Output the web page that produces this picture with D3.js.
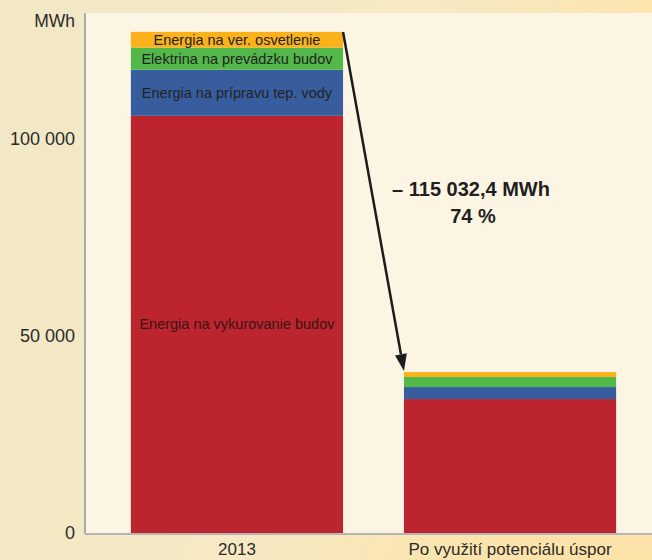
<!DOCTYPE html>
<html>
<head>
<meta charset="utf-8">
<script src="https://cdn.jsdelivr.net/npm/d3@7"></script>
<style>
  html, body { margin: 0; padding: 0; background: #f4e9c6; }
  svg { display: block; font-family: "Liberation Sans", Arial, sans-serif; }
</style>
</head>
<body>
<div id="chart"></div>
<script>

// data
var categories = ["2013", "Po využití potenciálu úspor"];
var series = [
    "Energia na vykurovanie budov",
    "Energia na prípravu tep. vody",
    "Elektrina na prevádzku budov",
    "Energia na ver. osvetlenie"
];
var heating   = [105900, 34000];
var hotWater  = [11700, 3050];
var buildings = [5600, 2550];
var lighting  = [4000, 1250];
var colors = ["#bc252e", "#375d9e", "#53b84a", "#fbb21a"];
var yTicks = [0, 50000, 100000];
var yUnit = "MWh";
var savingLabel = "– 115 032,4 MWh";
var savingPct = "74 %";

var full_width = 652,
    full_height = 560,
    margin = {top: 13, right: -10, bottom: 27, left: 85},
    width = full_width - margin.left - margin.right,
    height = full_height - margin.top - margin.bottom;

var rows = categories.map(function (c, i) {
    return {
        cat: c,
        "Energia na vykurovanie budov": heating[i],
        "Energia na prípravu tep. vody": hotWater[i],
        "Elektrina na prevádzku budov": buildings[i],
        "Energia na ver. osvetlenie": lighting[i]
    };
});

var stacked = d3.stack().keys(series)(rows);

var x = d3.scaleBand()
    .domain(categories)
    .range([margin.left, margin.left + width])
    .paddingInner(0.223)
    .paddingOuter(0.168);

var y = d3.scaleLinear()
    .domain([0, 132000])
    .range([margin.top + height, margin.top]);

var svg = d3.select("#chart").append("svg")
    .attr("width", full_width)
    .attr("height", full_height);

// background gradient
var defs = svg.append("defs");
var bg = defs.append("linearGradient")
    .attr("id", "bg")
    .attr("x1", "0").attr("y1", "0")
    .attr("x2", "1").attr("y2", "0.3");
bg.append("stop").attr("offset", "0%").attr("stop-color", "#f2e8c6");
bg.append("stop").attr("offset", "60%").attr("stop-color", "#f6e9c4");
bg.append("stop").attr("offset", "100%").attr("stop-color", "#fde3a9");

svg.append("rect")
    .attr("width", full_width)
    .attr("height", full_height)
    .attr("fill", "url(#bg)");

// plot area
svg.append("rect")
    .attr("x", margin.left)
    .attr("y", margin.top)
    .attr("width", width)
    .attr("height", height + 1)
    .attr("fill", "#fdf5e4");

// bars
svg.append("g")
    .selectAll("g")
    .data(stacked)
    .enter().append("g")
    .attr("fill", function (d, i) { return colors[i]; })
    .selectAll("rect")
    .data(function (d) { return d; })
    .enter().append("rect")
    .attr("x", function (d) { return x(d.data.cat); })
    .attr("y", function (d) { return y(d[1]); })
    .attr("width", x.bandwidth())
    .attr("height", function (d) { return y(d[0]) - y(d[1]); });

// segment labels, only on the first bar
svg.append("g")
    .selectAll("text")
    .data(stacked)
    .enter().append("text")
    .attr("x", x(categories[0]) + x.bandwidth() / 2)
    .attr("y", function (d) { return (y(d[0][0]) + y(d[0][1])) / 2; })
    .attr("dy", "0.35em")
    .attr("text-anchor", "middle")
    .attr("font-size", "14.5px")
    .attr("fill", function (d, i) { return i === 0 ? "#3a1416" : "#222"; })
    .text(function (d) { return d.key; });

// axes lines
svg.append("line")
    .attr("x1", margin.left).attr("x2", margin.left)
    .attr("y1", margin.top).attr("y2", margin.top + height + 1)
    .attr("stroke", "#aaa")
    .attr("stroke-width", 2);
svg.append("line")
    .attr("x1", margin.left).attr("x2", full_width)
    .attr("y1", margin.top + height + 1).attr("y2", margin.top + height + 1)
    .attr("stroke", "#b5b5b5")
    .attr("stroke-width", 2);

// y tick labels
var fmt = function (v) { return d3.format(",")(v).replace(/,/g, " "); };
svg.append("g")
    .selectAll("text")
    .data(yTicks)
    .enter().append("text")
    .attr("x", margin.left - 10)
    .attr("y", function (d) { return y(d); })
    .attr("dy", "0.35em")
    .attr("text-anchor", "end")
    .attr("font-size", "18px")
    .attr("fill", "#2b2b2b")
    .text(fmt);

svg.append("text")
    .attr("x", margin.left - 10)
    .attr("y", 21)
    .attr("dy", "0.35em")
    .attr("text-anchor", "end")
    .attr("font-size", "17.5px")
    .attr("fill", "#2b2b2b")
    .text(yUnit);

// category labels
svg.append("g")
    .selectAll("text")
    .data(categories)
    .enter().append("text")
    .attr("x", function (d) { return x(d) + x.bandwidth() / 2; })
    .attr("y", 555)
    .attr("text-anchor", "middle")
    .attr("font-size", "17px")
    .attr("fill", "#2b2b2b")
    .text(function (d) { return d; });

// arrow from top of first bar to top of second bar
var topSeries = stacked[stacked.length - 1];
var ax0 = x(categories[0]) + x.bandwidth(),
    ay0 = y(topSeries[0][1]),
    ax1 = x(categories[1]),
    ay1 = y(topSeries[1][1]) - 1;
var ang = Math.atan2(ay1 - ay0, ax1 - ax0),
    headLen = 17,
    headW = 6;
var bx = ax1 - headLen * Math.cos(ang),
    by = ay1 - headLen * Math.sin(ang);

svg.append("line")
    .attr("x1", ax0).attr("y1", ay0)
    .attr("x2", bx).attr("y2", by)
    .attr("stroke", "#1c1c1c")
    .attr("stroke-width", 2.5);

svg.append("path")
    .attr("d", "M" + ax1 + "," + ay1 +
        "L" + (bx + headW * Math.sin(ang)) + "," + (by - headW * Math.cos(ang)) +
        "L" + (bx - headW * Math.sin(ang)) + "," + (by + headW * Math.cos(ang)) + "Z")
    .attr("fill", "#1c1c1c");

// saving annotation
svg.append("text")
    .attr("x", 471)
    .attr("y", 189)
    .attr("dy", "0.35em")
    .attr("text-anchor", "middle")
    .attr("font-size", "20px")
    .attr("font-weight", "bold")
    .attr("fill", "#231f20")
    .text(savingLabel);

svg.append("text")
    .attr("x", 473)
    .attr("y", 216)
    .attr("dy", "0.35em")
    .attr("text-anchor", "middle")
    .attr("font-size", "20px")
    .attr("font-weight", "bold")
    .attr("fill", "#231f20")
    .text(savingPct);

</script>
</body>
</html>
